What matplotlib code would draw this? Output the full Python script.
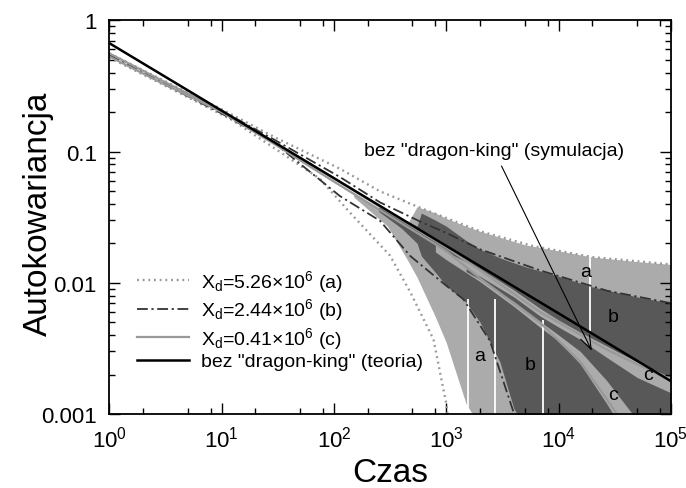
import numpy as np
import matplotlib.pyplot as plt
from matplotlib.ticker import LogLocator, NullFormatter

plt.rcParams['font.family'] = ['Liberation Sans', 'DejaVu Sans']
plt.rcParams['mathtext.fontset'] = 'custom'
plt.rcParams['mathtext.rm'] = 'Liberation Sans'
plt.rcParams['mathtext.it'] = 'Liberation Sans:italic'

LIGHT = '#ababab'
DARK = '#585858'

# --- curves (t, autocovariance) ---
t_up_a = [1, 3, 10, 30, 113, 258, 600, 2000, 6000, 2e4, 1e5]
y_up_a = [0.56, 0.35, 0.21, 0.128, 0.074, 0.0497, 0.037, 0.0247, 0.019, 0.0157, 0.0138]
t_lo_a = [1, 3, 12, 30, 75, 140, 316, 478, 770, 1000, 1060]
y_lo_a = [0.52, 0.324, 0.177, 0.105, 0.062, 0.034, 0.0161, 0.0085, 0.0037, 0.0012, 0.0008]

t_up_b = [1, 3, 10, 30, 113, 257, 600, 1000, 2000, 6900, 2.7e4, 1e5]
y_up_b = [0.55, 0.34, 0.205, 0.122, 0.064, 0.041, 0.029, 0.024, 0.018, 0.0124, 0.0087, 0.007]
t_lo_b = [1, 3, 10, 30, 113, 257, 478, 1000, 1420, 2450, 3950, 4300]
y_lo_b = [0.54, 0.33, 0.195, 0.115, 0.0458, 0.0297, 0.016, 0.0095, 0.0075, 0.0036, 0.00105, 0.0008]

t_up_c = [1, 3, 10, 30, 100, 300, 1000, 2000, 6800, 2.68e4, 1e5]
y_up_c = [0.56, 0.345, 0.205, 0.117, 0.0625, 0.035, 0.0185, 0.0125, 0.006, 0.0031, 0.0018]
t_lo_c = [1, 3, 10, 30, 100, 300, 1000, 2000, 6800, 1.56e4, 2.68e4, 3.3e4, 3.6e4]
y_lo_c = [0.53, 0.33, 0.2, 0.113, 0.059, 0.033, 0.0175, 0.0108, 0.005, 0.0025, 0.0013, 0.001, 0.0008]

t_theory = [1, 10, 100, 1000, 1e4, 1e5]
y_theory = [0.67, 0.205, 0.0627, 0.0191, 0.00585, 0.00178]

# --- shaded (noisy) simulation regions ---
t_fill_a = [150, 300, 450, 550, 800, 1000, 1500, 2000, 5000, 1e4, 2e4, 5e4, 1e5]
a_hi = [0.048, 0.034, 0.028, 0.038, 0.034, 0.031, 0.027, 0.0247, 0.0195, 0.0175, 0.0157, 0.0145, 0.0138]
a_lo = [0.045, 0.027, 0.015, 0.011, 0.0055, 0.0035, 0.0012, 0.0008, 0.0008, 0.0008, 0.0008, 0.0008, 0.0008]

t_fill_b = [250, 400, 550, 600, 800, 1000, 1500, 2000, 3000, 4000, 5000, 1e4, 2e4, 5e4, 1e5]
b_hi = [0.038, 0.031, 0.027, 0.034, 0.030, 0.027, 0.021, 0.018, 0.0155, 0.0142, 0.0133, 0.0112, 0.0093, 0.0078, 0.007]
b_lo = [0.035, 0.026, 0.02, 0.016, 0.012, 0.0095, 0.0071, 0.005, 0.0025, 0.0011, 0.0008, 0.0008, 0.0008, 0.0008, 0.0008]

t_fill_c = [800, 1000, 2000, 4000, 6800, 1e4, 1.56e4, 2.68e4, 3.3e4, 5e4, 1e5]
c_hi = [0.0195, 0.0172, 0.0128, 0.0088, 0.0064, 0.0052, 0.0042, 0.0033, 0.003, 0.0025, 0.0019]
c_lo = [0.0172, 0.015, 0.0102, 0.0066, 0.0046, 0.0036, 0.0024, 0.0012, 0.0009, 0.0008, 0.0008]

t_core = [1500, 2000, 4000, 6800, 1e4, 1.56e4, 2.68e4, 5e4, 1e5]
core_hi = [0.0128, 0.0112, 0.0078, 0.0056, 0.0046, 0.0037, 0.0027, 0.0019, 0.00145]
core_lo = [0.0122, 0.0106, 0.0072, 0.0051, 0.0040, 0.0030, 0.0018, 0.0009, 0.0008]

# white gaps in the simulated data
gap_t = [1570, 2690, 7240, 19000]
gap_hi = [0.0075, 0.0075, 0.0052, 0.0184]
gap_lo = [0.0009, 0.0009, 0.0009, 0.0043]

# letter labels inside the shaded regions
lab_txt = ['a', 'b', 'a', 'b', 'c', 'c']
lab_t = [17500, 30500, 2000, 5600, 63000, 30800]
lab_y = [0.0121, 0.0055, 0.0028, 0.0024, 0.0020, 0.0014]

legend_labels = [r'X$_\mathrm{d}$=5.26$\times$10$^\mathrm{6}$ (a)',
                 r'X$_\mathrm{d}$=2.44$\times$10$^\mathrm{6}$ (b)',
                 r'X$_\mathrm{d}$=0.41$\times$10$^\mathrm{6}$ (c)',
                 'bez "dragon-king" (teoria)']

fig = plt.figure(figsize=(6.86, 4.89), dpi=100)
ax = fig.add_axes([0.1593, 0.1513, 0.8187, 0.8051])

ax.fill_between(t_fill_a, a_lo, a_hi, color=LIGHT, lw=0)
ax.fill_between(t_fill_b, b_lo, b_hi, color=DARK, lw=0)
ax.fill_between(t_fill_c, c_lo, c_hi, color=LIGHT, lw=0)
ax.fill_between(t_core, core_lo, core_hi, color=DARK, lw=0)
ax.vlines(gap_t, gap_lo, gap_hi, colors='white', lw=1.3)

dot = (0, (0.8, 1.6))
dashdot = (0, (6, 2, 1.2, 2))
l1, = ax.plot(t_up_a, y_up_a, color='#999999', lw=1.7, ls=dot)
ax.plot(t_lo_a, y_lo_a, color='#999999', lw=1.7, ls=dot)
l2, = ax.plot(t_up_b, y_up_b, color='#333333', lw=1.3, ls=dashdot)
ax.plot(t_lo_b, y_lo_b, color='#333333', lw=1.3, ls=dashdot)
l3, = ax.plot(t_up_c, y_up_c, color='#999999', lw=1.6)
ax.plot(t_lo_c, y_lo_c, color='#999999', lw=1.6)
l4, = ax.plot(t_theory, y_theory, color='black', lw=1.8)

for s, tx, ty in zip(lab_txt, lab_t, lab_y):
    ax.text(tx, ty, s, fontsize=14, ha='center', va='center')

ax.annotate('bez "dragon-king" (symulacja)', xy=(19770, 0.00303), xytext=(2670, 0.101),
            fontsize=14, ha='center', va='center',
            arrowprops=dict(arrowstyle='->,head_length=0.7,head_width=0.25',
                            lw=0.8, color='black', shrinkA=3, shrinkB=0))

ax.legend([l1, l2, l3, l4], legend_labels, loc='upper left',
          bbox_to_anchor=(0.025, 0.405), frameon=False, fontsize=14,
          handlelength=2.7, labelspacing=0.12, borderaxespad=0.3, handletextpad=0.6)

ax.set_xscale('log')
ax.set_yscale('log')
ax.set_xlim(1, 1e5)
ax.set_ylim(0.001, 1)

ax.set_xticks([1, 10, 100, 1e3, 1e4, 1e5])
ax.set_xticklabels(['10$^\\mathrm{%d}$' % i for i in range(6)])
ax.set_yticks([0.001, 0.01, 0.1, 1])
ax.set_yticklabels(['0.001', '0.01', '0.1', '1'])
ax.xaxis.set_minor_locator(LogLocator(base=10, subs=[2, 5, 8], numticks=20))
ax.yaxis.set_minor_locator(LogLocator(base=10, subs=np.arange(2, 10), numticks=20))
ax.xaxis.set_minor_formatter(NullFormatter())
ax.yaxis.set_minor_formatter(NullFormatter())

ax.tick_params(which='both', direction='in', top=True, right=True, width=1.0, labelsize=16)
ax.tick_params(which='major', length=8)
ax.tick_params(which='minor', length=4)
ax.tick_params(axis='x', pad=8)
ax.tick_params(axis='y', pad=9)
for sp in ax.spines.values():
    sp.set_linewidth(1.3)

ax.set_xlabel('Czas', fontsize=24, labelpad=4)
ax.set_ylabel('Autokowariancja', fontsize=24)
ax.yaxis.set_label_coords(-0.098, 0.51)

fig.savefig('out.png', dpi=100)
